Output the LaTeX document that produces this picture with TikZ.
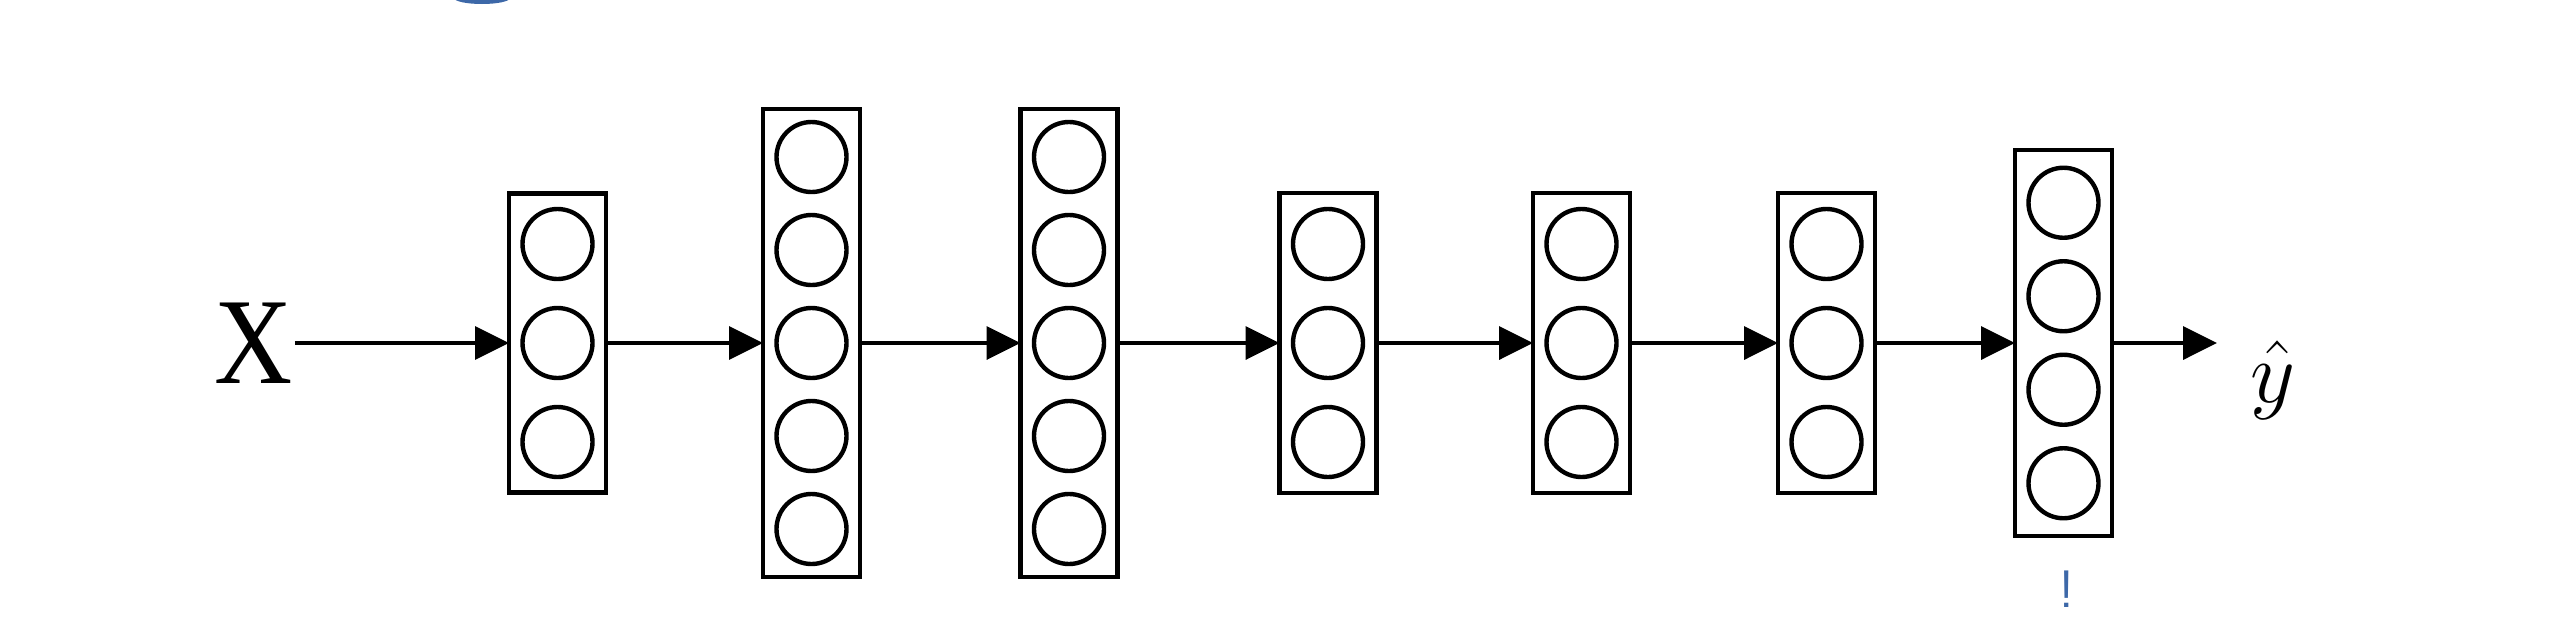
\documentclass[tikz,border=0pt]{standalone}
\usepackage{fontspec}
\setmainfont{Liberation Serif}
\usepackage{tikz}
\usetikzlibrary{arrows.meta,positioning,calc}
\tikzset{
	layer/.style={draw, line width=1.4pt, minimum width=0.97cm, inner sep=0, outer sep=0},
	neuron/.style={draw, circle, line width=1.25pt, minimum size=0.70cm, inner sep=0},
	flow/.style={line width=1.05pt, -{Triangle[length=3.4mm,width=3.3mm]}}
}
\definecolor{inkColor}{HTML}{3D68A8}

\begin{document}
\begin{tikzpicture}[flow]
	\useasboundingbox (0,0) rectangle (25.74,6.40);
	\fill[inkColor] (4.82,6.42) ellipse (0.28 and 0.06);
	
	\node[inner sep=0, font=\fontsize{35}{40}\selectfont] (x) at (2.54, 2.97) {\scalebox{0.88}[1]{X}};
	
	\foreach \name/\xx/\n/\pitch/\hh in {b1/5.575/3/0.99/2.99, b2/8.115/5/0.93/4.68,
		b3/10.69/5/0.93/4.68, b4/13.28/3/0.99/3.0, b5/15.815/3/0.99/3.0,
		b6/18.265/3/0.99/3.0, b7/20.635/4/0.935/3.86}{
		\node[layer, minimum height=\hh cm] (\name) at (\xx, 2.97) {};
		\foreach \i in {1,...,\n}
			\node[neuron] (\name-\i) at (\xx, {2.97+((\n+1)/2-\i)*\pitch}) {};
	}
	
	\node[inner sep=0, anchor=base, font=\fontsize{38}{44}\selectfont] (yhat) at (22.73, 2.38) {$\hat{y}$};
	\coordinate (yin) at (22.17, 2.97);
	
	\draw (x.east) -- (b1);
	\draw (b1) -- (b2);
	\draw (b2) -- (b3);
	\draw (b3) -- (b4);
	\draw (b4) -- (b5);
	\draw (b5) -- (b6);
	\draw (b6) -- (b7);
	\draw (b7) -- (yin);
	
	\node[text=inkColor, inner sep=0, font=\sffamily\fontsize{15}{18}\selectfont] (mark) at (20.67, 0.51) {!};
\end{tikzpicture}
\end{document}
